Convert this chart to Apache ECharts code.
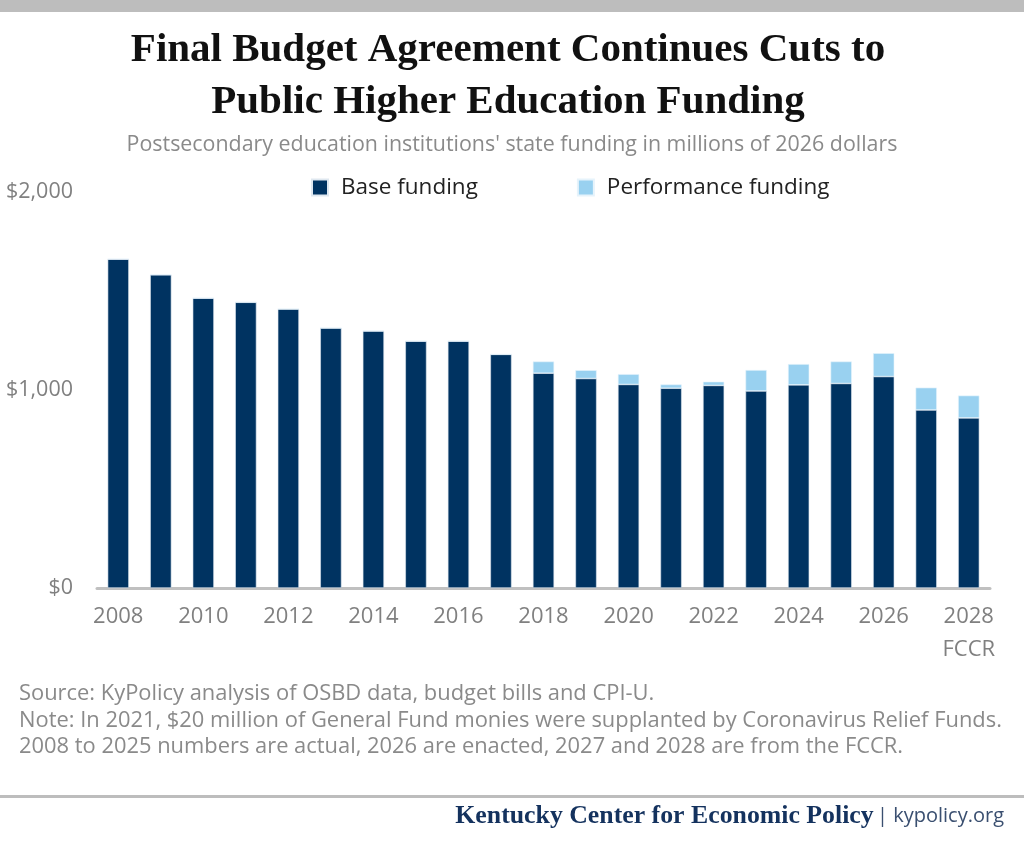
<!DOCTYPE html>
<html>
<head>
<meta charset="utf-8">
<script src="https://cdn.jsdelivr.net/npm/echarts@6/dist/echarts.min.js"></script>
<style>
  html, body { margin: 0; padding: 0; background: #fff; }
  #chart { width: 1024px; height: 844px; }
</style>
</head>
<body>
<div id="chart"></div>
<script>
// values (millions of 2026 dollars)
const years = ['2008', '2009', '2010', '2011', '2012', '2013', '2014', '2015', '2016', '2017',
  '2018', '2019', '2020', '2021', '2022', '2023', '2024', '2025', '2026', '2027', '2028'];
const baseFunding = [1661, 1582, 1464, 1443, 1409, 1313, 1298, 1247, 1247, 1180,
  1085, 1058, 1028, 1009, 1023, 995, 1026, 1033, 1068, 899, 859];
const performanceFunding = [0, 0, 0, 0, 0, 0, 0, 0, 0, 0,
  59, 42, 52, 19, 19, 106, 105, 111, 118, 113, 113];
const yTicks = [0, 1000, 2000];

const sourceLines = [
  'Source: KyPolicy analysis of OSBD data, budget bills and CPI-U.',
  'Note: In 2021, $20 million of General Fund monies were supplanted by Coronavirus Relief Funds.',
  '2008 to 2025 numbers are actual, 2026 are enacted, 2027 and 2028 are from the FCCR.'
];

const navy = '#003361';
const lightBlue = '#99d1f0';
const gray = '#808080';
const sans = 'Open Sans';

const chart = echarts.init(document.getElementById('chart'));

const option = {
  backgroundColor: '#fff',
  animation: false,
  title: [
    {
      text: "Postsecondary education institutions' state funding in millions of 2026 dollars",
      left: 'center',
      top: 129,
      textStyle: {
        fontFamily: sans,
        fontWeight: 'normal',
        fontSize: 21.4,
        color: '#8a8a8a'
      }
    },
    {
      text: sourceLines.join('\n'),
      left: 14,
      top: 676,
      textStyle: {
        fontFamily: sans,
        fontWeight: 'normal',
        fontSize: 21.9,
        lineHeight: 26.5,
        color: '#8a8a8a'
      }
    }
  ],
  legend: {
    top: 176,
    left: 311,
    padding: 0,
    itemWidth: 16,
    itemHeight: 16,
    itemGap: 99,
    icon: 'rect',
    data: ['Base funding', 'Performance funding'],
    textStyle: {
      fontFamily: sans,
      fontSize: 22.5,
      color: '#222',
      padding: [0, 0, 0, 8]
    }
  },
  grid: {
    left: 97,
    right: 34,
    top: 192,
    bottom: 256,
    containLabel: false
  },
  xAxis: {
    type: 'category',
    data: years,
    axisTick: { show: false },
    axisLine: { lineStyle: { color: '#c0c0c0', width: 3 } },
    axisLabel: {
      interval: 1,
      margin: 12,
      color: gray,
      fontFamily: sans,
      fontSize: 22,
      lineHeight: 33,
      formatter: (v) => (v === '2028' ? '2028\nFCCR' : v)
    }
  },
  yAxis: {
    type: 'value',
    min: yTicks[0],
    max: yTicks[yTicks.length - 1],
    interval: 1000,
    splitLine: { show: false },
    axisLine: { show: false },
    axisTick: { show: false },
    axisLabel: {
      margin: 24,
      color: gray,
      fontFamily: sans,
      fontSize: 21.5,
      formatter: (v) => '$' + v.toLocaleString('en-US')
    }
  },
  series: [
    {
      name: 'Base funding',
      type: 'bar',
      stack: 'total',
      barWidth: '50%',
      data: baseFunding,
      itemStyle: { color: navy, borderColor: '#dfe8f0', borderWidth: 0.6 }
    },
    {
      name: 'Performance funding',
      type: 'bar',
      stack: 'total',
      barWidth: '50%',
      data: performanceFunding,
      itemStyle: { color: lightBlue, borderColor: '#e6f3fb', borderWidth: 0.6 }
    }
  ],
  graphic: [
    {
      type: 'rect',
      left: 0,
      top: 0,
      shape: { width: 1024, height: 12 },
      style: { fill: '#bdbdbd' }
    },
    {
      type: 'text',
      x: 508,
      y: 24,
      style: {
        text: 'Final Budget Agreement Continues Cuts to\nPublic Higher Education Funding',
        align: 'center',
        verticalAlign: 'top',
        fontFamily: 'Liberation Serif',
        fontWeight: 'bold',
        fontSize: 41,
        lineHeight: 52,
        fill: '#111'
      }
    },
    {
      type: 'rect',
      left: 0,
      top: 795,
      shape: { width: 1024, height: 3 },
      style: { fill: '#bdbdbd' }
    },
    {
      type: 'text',
      right: 20,
      top: 803,
      style: {
        text: '{a|Kentucky Center for Economic Policy} {b|| kypolicy.org}',
        rich: {
          a: { fontFamily: 'Liberation Serif', fontWeight: 'bold', fontSize: 25.8, fill: '#14325e' },
          b: { fontFamily: sans, fontSize: 20, fill: '#3a4f70' }
        }
      }
    }
  ]
};

chart.setOption(option);
</script>
</body>
</html>
